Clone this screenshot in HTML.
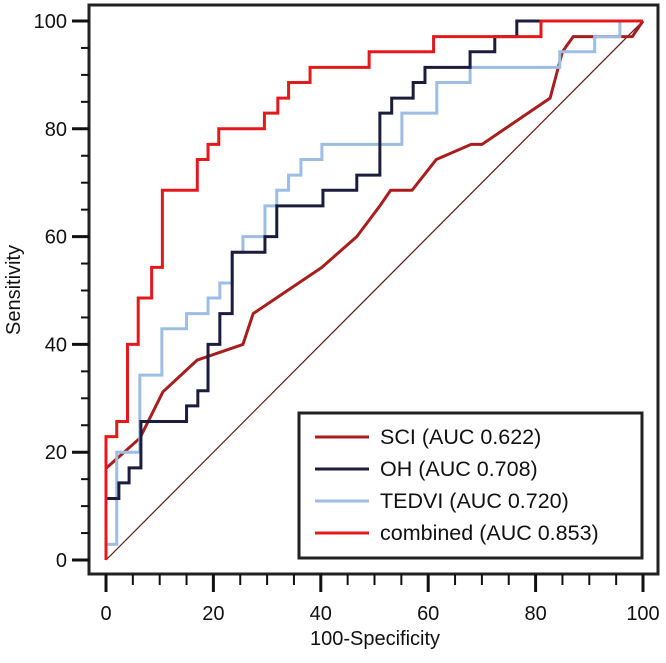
<!DOCTYPE html>
<html><head><meta charset="utf-8"><style>
html,body{margin:0;padding:0;background:#fff;}
svg text{font-family:"Liberation Sans",sans-serif;fill:#111;}
</style></head><body>
<svg id="chart" width="666" height="658" viewBox="0 0 666 658" xmlns="http://www.w3.org/2000/svg"></svg>
<script>
const sciFpr=[0,6.3,10.6,17,25.5,27.4,40.2,46.7,51,53,57,61.5,68,70,82.7,85,87,98,100];
const sciTpr=[17,22.6,31.2,37.1,40,45.7,54.3,60,65.7,68.6,68.6,74.3,77.1,77.1,85.7,94.3,97.1,97.1,100];
const ohFpr=[0,2.4,4.3,6.5,15,17.1,19,21.2,23.5,29.6,31.8,40.4,46.7,51,53.2,57.2,59.4,67.8,72.4,76.5];
const ohTpr=[11.4,14.3,17.1,25.7,28.6,31.4,40,45.7,57.1,60,65.7,68.6,71.4,82.9,85.7,88.6,91.4,94.3,97.1,100];
const tedviFpr=[0,2,6.3,10.4,15,19,21.2,23.5,25.5,29.6,31.8,34,36.3,40.2,55.1,61.6,67.8,84.5,91,95.7];
const tedviTpr=[2.9,20,34.3,42.9,45.7,48.6,51.4,57.1,60,65.7,68.6,71.4,74.3,77.1,82.9,88.6,91.4,94.3,97.1,100];
const combFpr=[0,2,4,6,8.5,10.5,17,19,21,29.5,32,34,38,49,61,81];
const combTpr=[22.9,25.7,40,48.6,54.3,68.6,74.3,77.1,80,82.9,85.7,88.6,91.4,94.3,97.1,100];
const tickValues=[0,20,40,60,80,100];
const legendLabels=["SCI (AUC 0.622)","OH (AUC 0.708)","TEDVI (AUC 0.720)","combined (AUC 0.853)"];

const NS="http://www.w3.org/2000/svg";
const svg=document.getElementById('chart');
const X=v=>106+v*5.37;
const Y=v=>560-v*5.39;
function mk(tag,attrs,parent){const e=document.createElementNS(NS,tag);for(const k in attrs)e.setAttribute(k,attrs[k]);(parent||svg).appendChild(e);return e;}

const frame=mk('rect',{x:89,y:5,width:569,height:569,fill:'none',stroke:'#222','stroke-width':3});



for(let v=0;v<=100;v+=5){
  const major=v%20===0;
  const tx=mk('line',{x1:X(v),x2:X(v),y1:574,y2:major?592:585,stroke:'#111','stroke-width':major?3:2});
  
  
  const ty=mk('line',{y1:Y(v),y2:Y(v),x1:89,x2:major?72:81,stroke:'#111','stroke-width':major?3:2});
  
  
}
tickValues.forEach(v=>{
  const t=mk('text',{x:X(v),y:620,'text-anchor':'middle','font-size':20});t.textContent=v;
  
  
  const u=mk('text',{x:67,y:Y(v)+7,'text-anchor':'end','font-size':20});u.textContent=v;
  
  
});
const xt=mk('text',{x:375,y:645,'text-anchor':'middle','font-size':20});xt.textContent='100-Specificity';


const yt=mk('text',{x:0,y:0,'text-anchor':'middle','font-size':20,transform:'translate(20,290) rotate(-90)'});yt.textContent='Sensitivity';



const dg=mk('line',{x1:X(0),y1:Y(0),x2:X(100),y2:Y(100),stroke:'#5a1a10','stroke-width':1.2});



function stepPath(fx,ty){let d=`M${X(0)},${Y(0)}`;let py=0;for(let i=0;i<fx.length;i++){d+=` L${X(fx[i])},${Y(py)} L${X(fx[i])},${Y(ty[i])}`;py=ty[i];}d+=` L${X(100)},${Y(py)}`;return d;}
function linePath(fx,ty){return fx.map((v,i)=>(i?'L':'M')+X(v)+','+Y(ty[i])).join(' ');}

const sci=mk('path',{d:linePath(sciFpr,sciTpr),fill:'none',stroke:'#a81e1e','stroke-width':3,'stroke-linejoin':'round'});


const ted=mk('path',{d:stepPath(tedviFpr,tedviTpr),fill:'none',stroke:'#9dbde3','stroke-width':3});


const oh=mk('path',{d:stepPath(ohFpr,ohTpr),fill:'none',stroke:'#1c1c3c','stroke-width':3});


const cb=mk('path',{d:stepPath(combFpr,combTpr),fill:'none',stroke:'#e3191c','stroke-width':3});



const lg=mk('g',{});


mk('rect',{x:299,y:413,width:343,height:145,fill:'#fff',stroke:'#222','stroke-width':3},lg);
const colors=['#a81e1e','#1c1c3c','#9dbde3','#e3191c'];
legendLabels.forEach((lab,i)=>{
  const y=437+i*32;
  const ent=mk('g',{},lg);
  
  
  mk('line',{x1:315,x2:369,y1:y,y2:y,stroke:colors[i],'stroke-width':3},ent);
  const t=mk('text',{x:380,y:y+7,'font-size':21.5},ent);t.textContent=lab;
});
</script>
</body></html>
